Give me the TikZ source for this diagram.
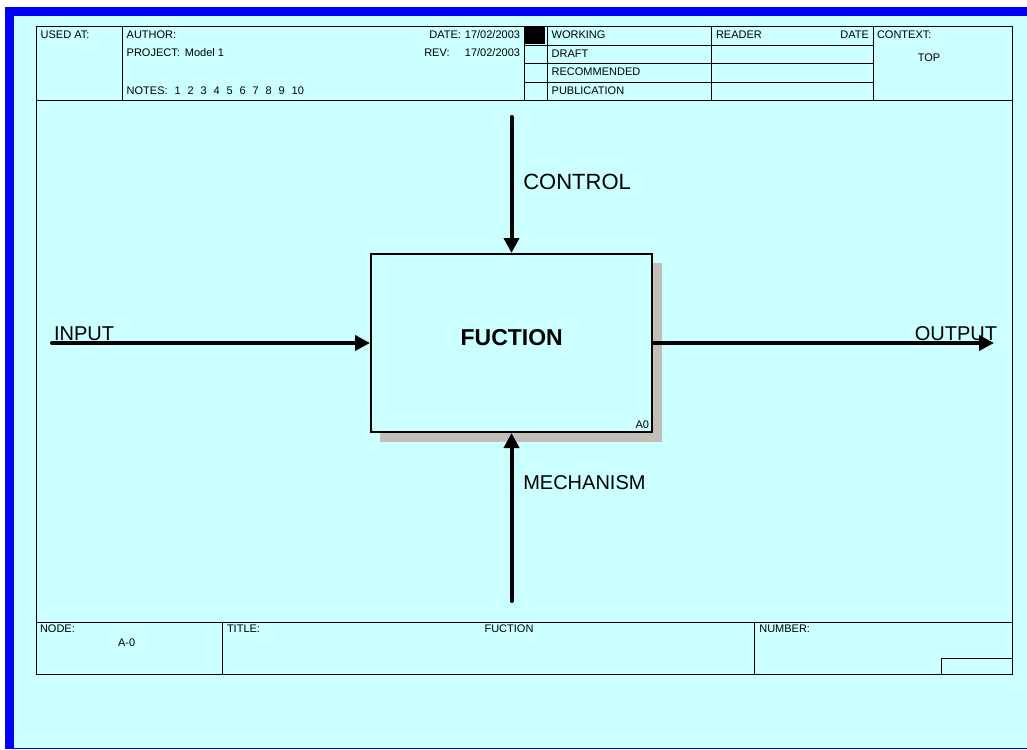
\documentclass[tikz,border=0pt]{standalone}
\usepackage{fontspec}
\setmainfont{Liberation Sans}
\usetikzlibrary{arrows.meta}
\definecolor{bgcyan}{RGB}{204,255,255}
\definecolor{frameblue}{RGB}{0,0,255}
\definecolor{shadowgray}{RGB}{196,190,184}
\newcommand{\nsp}{\hspace{6.9pt}}
\begin{document}
\begin{tikzpicture}[x=1pt,y=-1pt,
  small/.style={font=\fontsize{11}{13}\selectfont, inner sep=0pt, outer sep=0pt},
  big/.style={font=\fontsize{20}{24}\selectfont, inner sep=0pt, outer sep=0pt},
  rule/.style={draw=black, line width=0.9pt},
  flow/.style={line width=4pt, line cap=round, -{Triangle[length=15pt,width=15pt]}},
  funcbox/.style={draw=black, line width=2pt, fill=bgcyan, minimum width=281pt, minimum height=178pt, inner sep=0pt},
]
\useasboundingbox (0,0) rectangle (1027,749);
\fill[white] (0,0) rectangle (1027,749);
\fill[frameblue] (5,7) rectangle (1027,749);
\fill[bgcyan] (14,16) rectangle (1027,747.5);

% frame and header
\draw[rule] (36,26) rectangle (1012,674);
\draw[rule] (36,100) -- (1012,100);
\draw[rule] (122,26) -- (122,100);
\draw[rule] (524,26) -- (524,100);
\draw[rule] (547,26) -- (547,100);
\draw[rule] (711,26) -- (711,100);
\draw[rule] (873,26) -- (873,100);
\foreach \yy in {45,63.5,82} \draw[rule] (524,\yy) -- (873,\yy);
\fill[black] (524,26) rectangle (545,44);

% footer
\draw[rule] (36,622) -- (1012,622);
\draw[rule] (222,622) -- (222,674);
\draw[rule] (754,622) -- (754,674);
\draw[rule] (941,674) -- (941,658) -- (1012,658);

% header texts
\node[small, anchor=base west] (usedat) at (40.7,39) {USED AT:};
\node[small, anchor=base west] (author) at (126.7,39) {AUTHOR:};
\node[small, anchor=base west] (project) at (126.7,56.7) {PROJECT:\hspace{5pt}Model 1};
\node[small, anchor=base west] (notes) at (126.7,94.7) {NOTES:\nsp 1\nsp 2\nsp 3\nsp 4\nsp 5\nsp 6\nsp 7\nsp 8\nsp 9\nsp 10};
\node[small, anchor=base east] (date) at (520,39) {DATE:\hspace{4pt}17/02/2003};
\node[small, anchor=base west] (revl) at (424.3,56.5) {REV:};
\node[small, anchor=base east] (revd) at (520,56.5) {17/02/2003};
\node[small, anchor=base west] (working) at (551.7,39) {WORKING};
\node[small, anchor=base west] (draft) at (551.7,57.3) {DRAFT};
\node[small, anchor=base west] (recom) at (551.7,75.7) {RECOMMENDED};
\node[small, anchor=base west] (publ) at (551.7,94.7) {PUBLICATION};
\node[small, anchor=base west] (reader) at (716,39) {READER};
\node[small, anchor=base east] (rdate) at (869,39) {DATE};
\node[small, anchor=base west] (context) at (877,39) {CONTEXT:};
\node[small, anchor=base] (top) at (929,62) {TOP};

% footer texts
\node[small, anchor=base west] (nodel) at (40,632) {NODE:};
\node[small, anchor=base] (nodev) at (126.7,646) {A-0};
\node[small, anchor=base west] (titlel) at (227,632) {TITLE:};
\node[small, anchor=base] (titlev) at (509,632) {FUCTION};
\node[small, anchor=base west] (numberl) at (759.3,632) {NUMBER:};

% function box
\fill[shadowgray] (380,263) rectangle (662,442);
\node[funcbox] (fn) at (511.5,343) {};
\node[inner sep=0pt, anchor=base, font=\fontsize{23}{27}\selectfont\bfseries] (fname) at (511.7,345) {FUCTION};
\node[small, anchor=base east] (a0) at (649,428) {A0};

% arrows
\coordinate (inT) at (52,343);
\coordinate (outT) at (994,343);
\coordinate (ctlT) at (511.5,117);
\coordinate (mecT) at (511.5,601);
\draw[flow] (inT) -- (fn.west);
\draw[flow] (fn.east) -- (outT);
\draw[flow] (ctlT) -- (fn.north);
\draw[flow] (mecT) -- (fn.south);

\node[big, anchor=base west] (inl) at (54,340) {INPUT};
\node[big, anchor=base east] (outl) at (997,340) {OUTPUT};
\node[big, anchor=base west, font=\fontsize{22}{26}\selectfont] (ctll) at (523.3,189.5) {CONTROL};
\node[big, anchor=base west] (mecl) at (523.3,489) {MECHANISM};
\end{tikzpicture}
\end{document}
